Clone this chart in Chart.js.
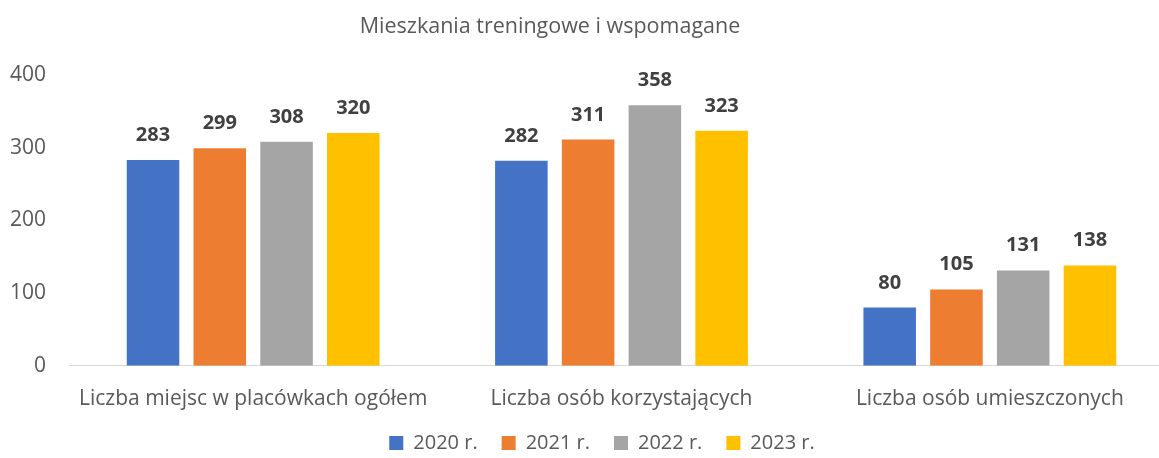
<!DOCTYPE html>
<html>
<head>
<meta charset="utf-8">
<script src="https://cdn.jsdelivr.net/npm/chart.js@4.4.1/dist/chart.umd.min.js"></script>
<style>
html,body{margin:0;padding:0;background:#fff;overflow:hidden;}
#wrap{position:relative;width:1180px;height:458px;}
</style>
</head>
<body>
<div id="wrap"><canvas id="c"></canvas></div>
<script>
const titleText = 'Mieszkania treningowe i wspomagane';
const categories = ['Liczba miejsc w placówkach ogółem', 'Liczba osób korzystających', 'Liczba osób umieszczonych'];
const seriesNames = ['2020 r.', '2021 r.', '2022 r.', '2023 r.'];
const values2020 = [283, 282, 80];
const values2021 = [299, 311, 105];
const values2022 = [308, 358, 131];
const values2023 = [320, 323, 138];
const yTicks = [0, 100, 200, 300, 400];

const colors = ['#4472C4', '#ED7D31', '#A5A5A5', '#FFC000'];
const FONT = '"Open Sans", sans-serif';
const allValues = [values2020, values2021, values2022, values2023];

const labelPlugin = {
  id: 'barLabels',
  afterDatasetsDraw(chart) {
    const ctx = chart.ctx;
    ctx.save();
    ctx.font = 'bold 20px ' + FONT;
    ctx.fillStyle = '#404040';
    ctx.textAlign = 'center';
    ctx.textBaseline = 'alphabetic';
    chart.data.datasets.forEach((ds, i) => {
      chart.getDatasetMeta(i).data.forEach((bar, j) => {
        ctx.fillText(String(ds.data[j]), bar.x, bar.y - 19);
      });
    });
    ctx.restore();
  }
};

const shiftPlugin = {
  id: 'shiftBlocks',
  afterLayout(chart) {
    const t = chart.titleBlock;
    if (t) { t.left -= 37; t.right -= 37; }
    const l = chart.legend;
    if (l) { l.left += 15; l.right += 15; l.top -= 24; l.bottom -= 24; }
  }
};

new Chart(document.getElementById('c'), {
  type: 'bar',
  data: {
    labels: categories,
    datasets: seriesNames.map((n, i) => ({
      label: n,
      data: allValues[i],
      backgroundColor: colors[i],
      borderWidth: 0,
      categoryPercentage: 0.725,
      barPercentage: 0.787
    }))
  },
  options: {
    responsive: true,
    maintainAspectRatio: false,
    animation: false,
    layout: { padding: { left: 0, right: 6, top: 0, bottom: -29 } },
    plugins: {
      title: {
        display: true,
        text: titleText,
        color: '#595959',
        font: { family: FONT, size: 21.5, weight: 'normal', lineHeight: 1.2 },
        padding: { top: 14, bottom: 35 }
      },
      legend: {
        position: 'bottom',
        labels: {
          color: '#595959',
          font: { family: FONT, size: 20, lineHeight: 1.2 },
          boxWidth: 14,
          boxHeight: 14,
          padding: 24
        }
      },
      tooltip: { enabled: false }
    },
    scales: {
      x: {
        grid: { display: false, drawTicks: false },
        border: { display: true, color: '#D9D9D9', width: 1 },
        ticks: { color: '#595959', font: { family: FONT, size: 21, lineHeight: 1.2 }, padding: 21 }
      },
      y: {
        min: 0,
        max: 400,
        afterFit(scale) { scale.width = 69; },
        afterBuildTicks(scale) { scale.ticks = yTicks.map(v => ({ value: v })); },
        grid: { display: false, drawTicks: false },
        border: { display: false },
        ticks: { color: '#595959', font: { family: FONT, size: 21 }, padding: 23 }
      }
    }
  },
  plugins: [labelPlugin, shiftPlugin]
});
</script>
</body>
</html>
